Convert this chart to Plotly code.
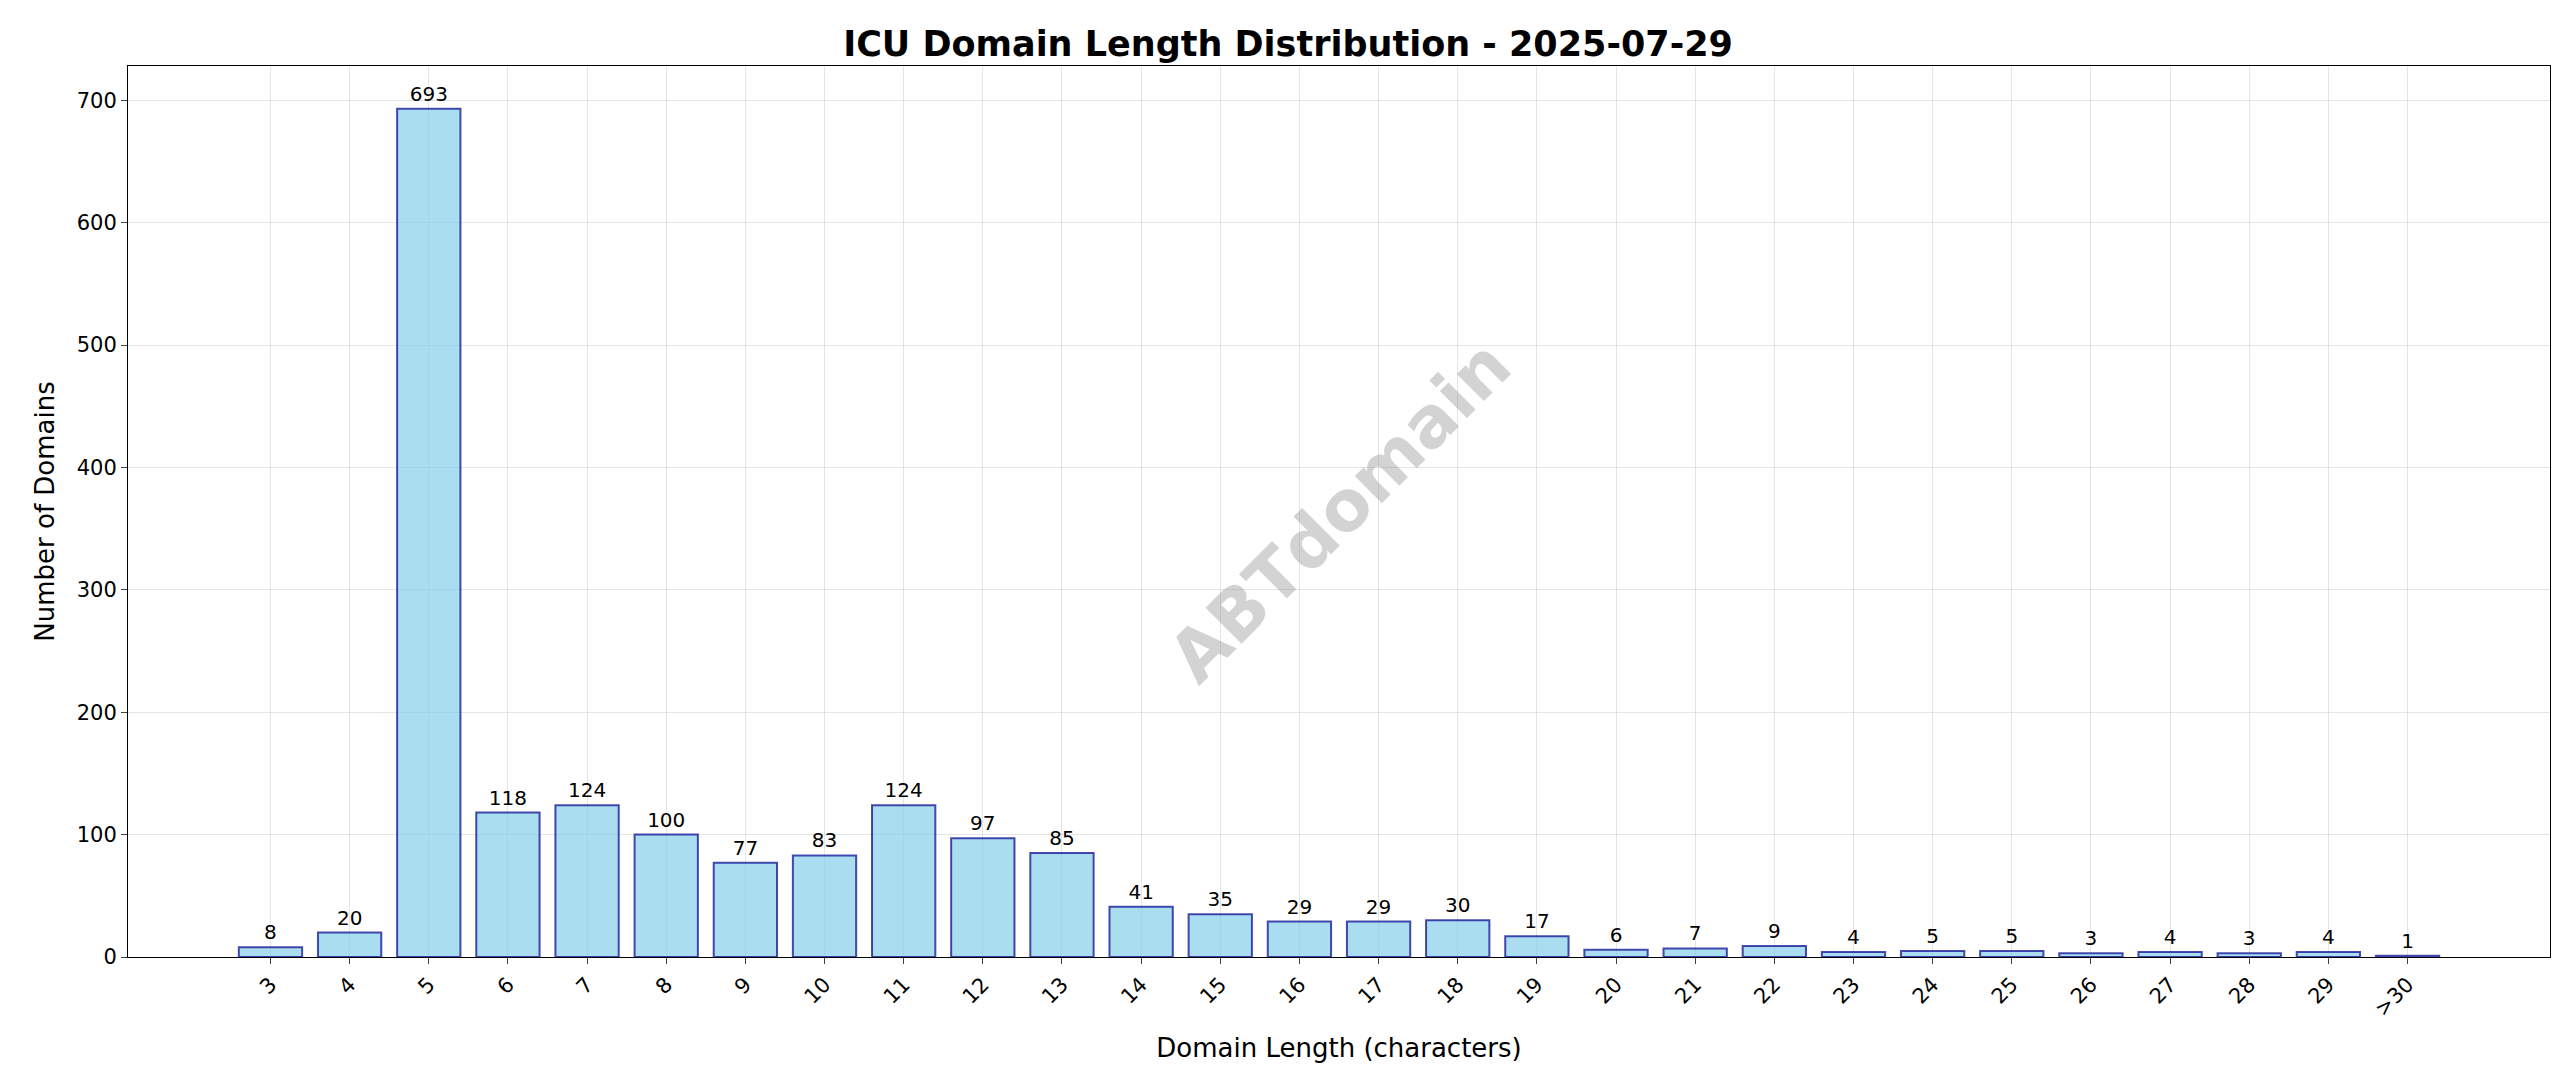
import plotly.graph_objects as go

categories = [str(i) for i in range(3, 30)] + [">30"]
counts = [8, 20, 693, 118, 124, 100, 77, 83, 124, 97, 85, 41, 35, 29, 29, 30, 17, 6, 7, 9, 4, 5, 5, 3, 4, 3, 4, 1]

fig = go.Figure(go.Bar(
    x=categories, y=counts, width=0.8,
    marker=dict(color="rgba(135,206,235,0.7)", line=dict(color="rgba(0,0,139,0.7)", width=2)),
    text=[str(c) for c in counts], textposition="outside", cliponaxis=False,
    textfont=dict(size=20, color="black", family="DejaVu Sans"),
))
fig.update_layout(
    width=2560, height=1087, paper_bgcolor="white", plot_bgcolor="white",
    margin=dict(l=120, r=18, t=58, b=138),
    font=dict(family="DejaVu Sans", color="black"),
    title=dict(text="<b>ICU Domain Length Distribution - 2025-07-29</b>", x=0.5, xanchor="center",
               y=0.967, yanchor="middle", font=dict(size=35)),
    showlegend=False,
    annotations=[dict(text="<b>ABTdomain</b>", x=0.5, y=0.5, xref="paper", yref="paper",
                      showarrow=False, textangle=-45, font=dict(size=70, color="rgba(128,128,128,0.35)"))],
)
fig.update_xaxes(type="category", range=[-1.8, 28.8], tickangle=-45, tickfont=dict(size=21),
                 showgrid=True, gridcolor="rgba(0,0,0,0.1)", showline=True, linecolor="black", mirror=True,
                 ticks="outside", ticklen=6,
                 title=dict(text="Domain Length (characters)", font=dict(size=26), standoff=18))
fig.update_yaxes(range=[0, 728], dtick=100, tickfont=dict(size=21), showgrid=True, gridcolor="rgba(0,0,0,0.1)",
                 showline=True, linecolor="black", mirror=True, ticks="outside", ticklen=6, zeroline=False,
                 title=dict(text="Number of Domains", font=dict(size=26), standoff=14))
fig.write_html("out.html")
